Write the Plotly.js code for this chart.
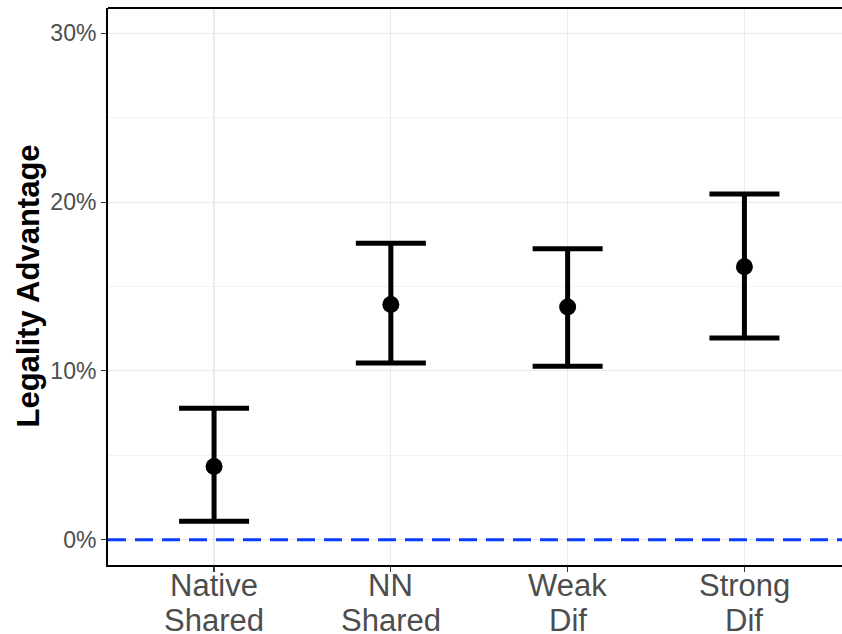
<!DOCTYPE html>
<html>
<head>
<meta charset="utf-8">
<script src="https://cdn.plot.ly/plotly-3.0.1.min.js"></script>
<style>html,body{margin:0;padding:0;background:#fff;}#chart{width:842px;height:634px;}</style>
</head>
<body>
<div id="chart"></div>
<script>
// Data (percent)
const categories = ["Native Shared", "NN Shared", "Weak Dif", "Strong Dif"];
const tickLine1 = ["Native", "NN", "Weak", "Strong"];
const tickLine2 = ["Shared", "Shared", "Dif", "Dif"];
const estimate = [4.34, 13.93, 13.78, 16.17];
const upper = [7.79, 17.56, 17.23, 20.48];
const lower = [1.09, 10.47, 10.27, 11.95];
const referenceValue = 0;
const yTickVals = [0, 10, 20, 30];
const yTickText = ["0%", "10%", "20%", "30%"];
const yTitle = "Legality Advantage";

const FONT = "Liberation Sans, Arial, sans-serif";
const xIdx = categories.map((c, i) => i);
const errPlus = upper.map((u, i) => u - estimate[i]);
const errMinus = lower.map((l, i) => estimate[i] - l);

const trace = {
  type: "scatter",
  mode: "markers",
  x: xIdx,
  y: estimate,
  marker: {color: "#000000", size: 17},
  error_y: {
    type: "data",
    symmetric: false,
    array: errPlus,
    arrayminus: errMinus,
    color: "#000000",
    thickness: 5,
    width: 35
  },
  hoverinfo: "skip",
  showlegend: false
};

const annotations = [];
xIdx.forEach(i => {
  annotations.push({
    x: i, xref: "x", y: 0, yref: "paper",
    text: tickLine1[i], showarrow: false,
    xanchor: "center", yanchor: "middle", yshift: -20.5,
    font: {family: FONT, size: 31, color: "#4D4D4D"}
  });
  annotations.push({
    x: i, xref: "x", y: 0, yref: "paper",
    text: tickLine2[i], showarrow: false,
    xanchor: "center", yanchor: "middle", yshift: -55.5,
    font: {family: FONT, size: 31, color: "#4D4D4D"}
  });
});
annotations.push({
  x: 0, xref: "paper", y: 0.5, yref: "paper",
  text: "<b>" + yTitle + "</b>", showarrow: false, textangle: -90,
  xanchor: "center", yanchor: "middle", xshift: -80,
  font: {family: FONT, size: 31, color: "#000000"}
});

const layout = {
  width: 842,
  height: 634,
  margin: {l: 107.5, r: 0, t: 7.5, b: 68.5},
  paper_bgcolor: "#ffffff",
  plot_bgcolor: "#ffffff",
  showlegend: false,
  xaxis: {
    range: [-0.6, 3.552],
    tickmode: "array",
    tickvals: xIdx,
    showticklabels: false,
    showgrid: true,
    gridcolor: "#EBEBEB",
    gridwidth: 1.2,
    zeroline: false,
    showline: true,
    linecolor: "#000000",
    linewidth: 2,
    ticks: "outside",
    ticklen: 5,
    tickwidth: 1.2,
    tickcolor: "#333333",
    fixedrange: true
  },
  yaxis: {
    range: [-1.5, 31.5],
    tickmode: "array",
    tickvals: yTickVals,
    ticktext: yTickText,
    showgrid: true,
    gridcolor: "#EBEBEB",
    gridwidth: 1.2,
    minor: {dtick: 5, showgrid: true, gridcolor: "#F2F2F2", gridwidth: 1, ticks: ""},
    zeroline: false,
    showline: true,
    linecolor: "#000000",
    linewidth: 2,
    ticks: "outside",
    ticklen: 5,
    tickwidth: 1.2,
    tickcolor: "#333333",
    tickfont: {family: FONT, size: 23, color: "#4D4D4D"},
    fixedrange: true
  },
  annotations: annotations,
  shapes: [
    {
      type: "line", xref: "paper", yref: "y",
      x0: 0, x1: 1, y0: referenceValue, y1: referenceValue,
      line: {color: "#0a3cff", width: 3, dash: "18px,9px"},
      layer: "above"
    },
    {
      type: "line", xref: "paper", yref: "paper",
      x0: 0, x1: 1, y0: 1, y1: 1,
      line: {color: "#000000", width: 2}
    }
  ]
};

Plotly.newPlot("chart", [trace], layout, {displayModeBar: false, staticPlot: true});
</script>
</body>
</html>
